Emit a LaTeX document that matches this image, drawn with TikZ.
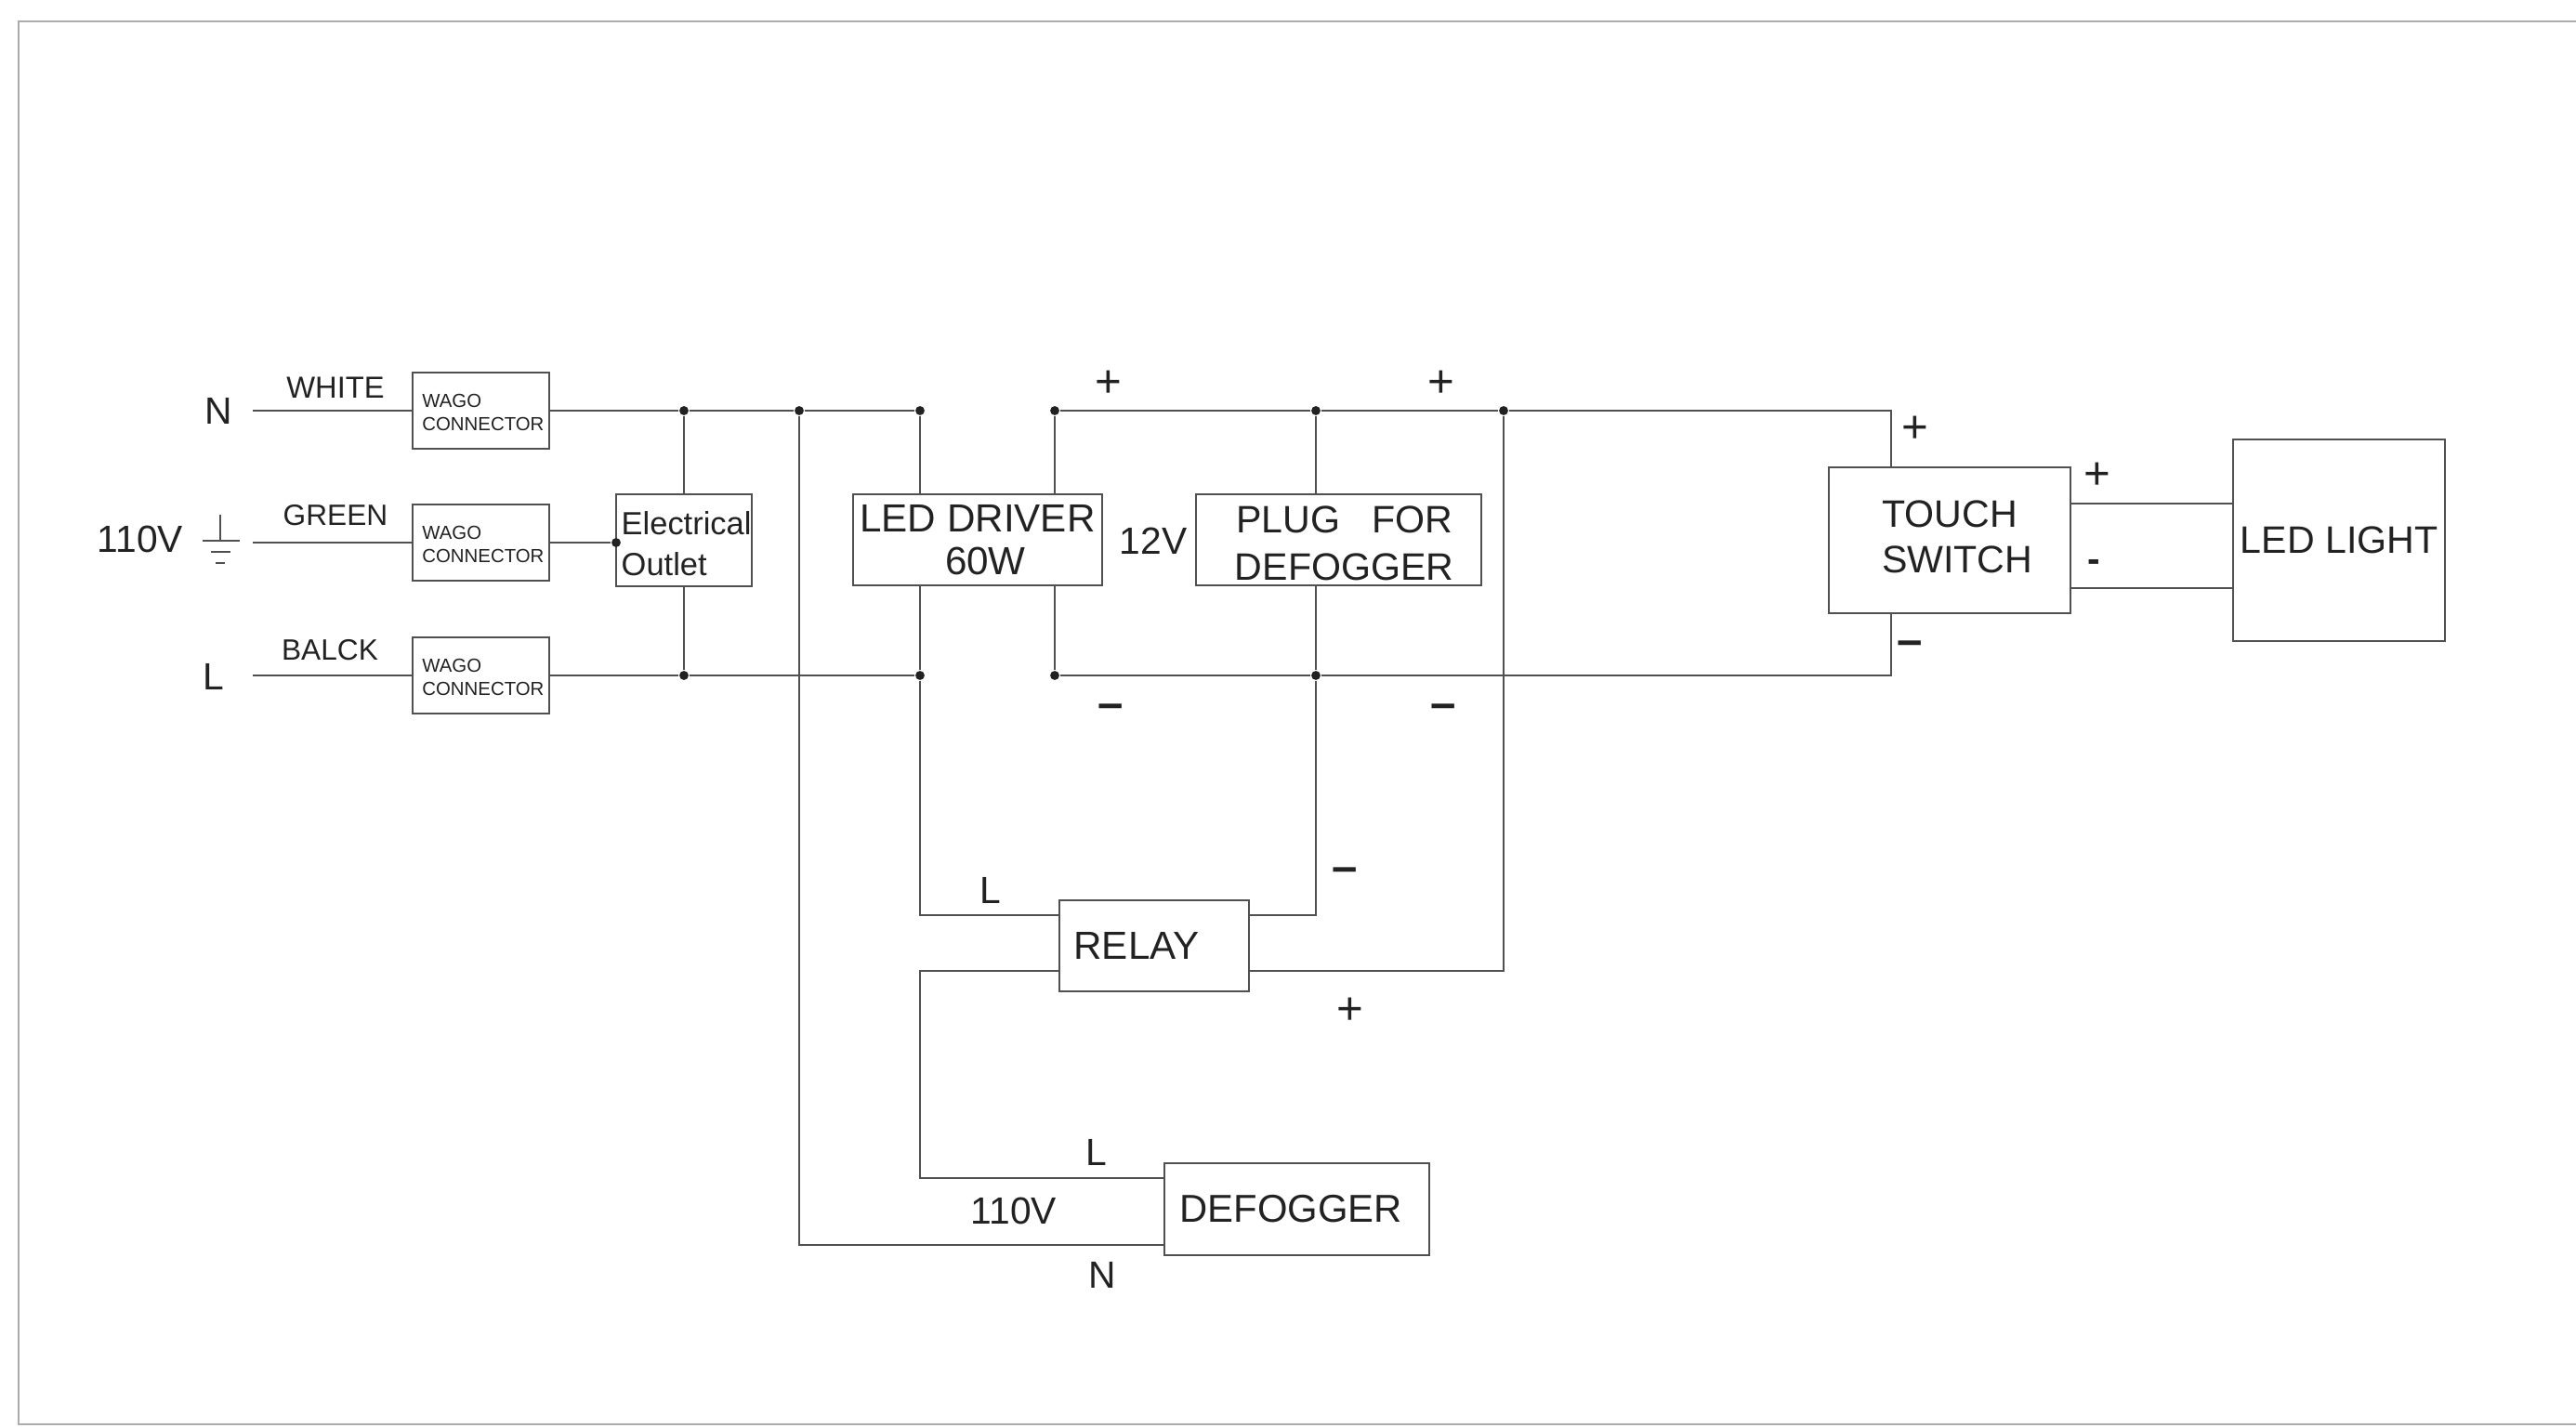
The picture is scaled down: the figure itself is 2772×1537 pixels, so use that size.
\documentclass[tikz,border=0pt]{standalone}
\usepackage{fontspec}
\setmainfont{Liberation Sans}
\usepackage{xcolor}
\usepackage{tikz}
\usetikzlibrary{positioning}
\definecolor{wirecol}{HTML}{505050}
\definecolor{inkcol}{HTML}{222222}

\begin{document}
\begin{tikzpicture}[
    x=0.01cm, y=-0.01cm,
    block/.style={rectangle, draw=wirecol, line width=0.75pt, text=inkcol, inner sep=0pt, align=center, font=\fontsize{11.7}{14}\selectfont},
    wago/.style={block, minimum width=147*0.01cm, minimum height=82*0.01cm},
    line/.style={draw=wirecol, line width=0.75pt},
    dot/.style={circle, fill=inkcol, inner sep=0pt, minimum size=2.8pt},
    lbl/.style={text=inkcol, inner sep=0pt, font=\fontsize{11.6}{13.4}\selectfont},
    wirelbl/.style={text=inkcol, inner sep=0pt, font=\fontsize{9}{11}\selectfont},
    sign/.style={text=inkcol, inner sep=0pt, font=\fontsize{14}{14}\selectfont},
    minus/.style={sign, font=\fontsize{14}{14}\selectfont\bfseries}
]

% Frame
\useasboundingbox (0,0) rectangle (2772,1537);
\draw[draw=gray!65, line width=0.8pt] (2772,23) -- (20,23) -- (20,1533) -- (2772,1533);

% Nodes
\node[wago] (wagoN) at (517.5,442) {};
\node[wago] (wagoG) at (517.5,584) {};
\node[wago] (wagoL) at (517.5,727) {};
\foreach \name in {wagoN, wagoG, wagoL} {
    \node[anchor=west, align=left, inner sep=0pt, text=inkcol, font=\fontsize{5.8}{6.9}\selectfont] (\name text) at ([xshift=11*0.01cm,yshift=-2*0.01cm]\name.west) {WAGO\\CONNECTOR};
}
\node[block, minimum width=146*0.01cm, minimum height=99*0.01cm] (outlet) at (736,581.5) {};
\node[anchor=west, align=left, inner sep=0pt, text=inkcol, font=\fontsize{9.8}{12.4}\selectfont] (outlettext) at (668,585) {Electrical\\Outlet};
\node[block, minimum width=268*0.01cm, minimum height=98*0.01cm, font=\fontsize{12}{13.2}\selectfont] (driver) at (1052,581) {LED DRIVER\\\hspace*{0.4em}60W};
\node[block, minimum width=307*0.01cm, minimum height=98*0.01cm, font=\fontsize{11.7}{14.4}\selectfont] (plug) at (1440.5,581) {\rule{0pt}{10.3pt}\hspace*{0.3em}PLUG\ \ \ FOR\\\hspace*{0.3em}DEFOGGER};
\node[block, minimum width=260*0.01cm, minimum height=157*0.01cm] (touch) at (2098,581.5) {TOUCH\\\hspace*{0.4em}SWITCH\rule[-2pt]{0pt}{1pt}};
\node[block, minimum width=228*0.01cm, minimum height=217*0.01cm] (light) at (2517,581.5) {LED LIGHT};
\node[block, minimum width=204*0.01cm, minimum height=98*0.01cm, font=\fontsize{12}{14}\selectfont] (relay) at (1242,1018) {\hspace*{-0.9em}RELAY};
\node[block, minimum width=285*0.01cm, minimum height=99*0.01cm, font=\fontsize{11.9}{14}\selectfont] (defogger) at (1395.5,1301.5) {\hspace*{-0.3em}DEFOGGER};

% Labels
\node[lbl] (lblN) at (235,442) {N};
\node[lbl] (lblG) at (151,580) {110V};
\node[lbl] (lblL) at (230,728) {L};
\node[wirelbl, font=\fontsize{9.3}{11}\selectfont] (white) at (361,417) {WHITE};
\node[wirelbl] (green) at (361,555) {GREEN};
\node[wirelbl] (balck) at (355,700) {BALCK};
\node[lbl] (volt) at (1241,582) {12V};
\node[lbl] (relayl) at (1066,958) {L};
\node[lbl] (defl) at (1180,1240) {L};
\node[lbl] (defv) at (1091,1303) {110V};
\node[lbl] (defn) at (1186,1372) {N};

% Signs
\node[sign] (plusa) at (1193,413) {+};
\node[sign] (plusb) at (1551,413) {+};
\node[sign] (plusc) at (2061,462) {+};
\node[sign] (plusd) at (2257,512) {+};
\node[sign] (pluse) at (1453,1088) {+};
\node[minus] (minusa) at (1195,766) {–};
\node[minus] (minusb) at (1553,766) {–};
\node[minus] (minusc) at (2055,698) {–};
\node[minus] (minusd) at (1447,942) {–};
\node[lbl, font=\fontsize{11.6}{13.4}\selectfont\bfseries] (minuse) at (2253,609) {-};

% Junctions
\node[dot] (dotNa) at (736,442) {};
\node[dot] (dotNb) at (860,442) {};
\node[dot] (dotNc) at (990,442) {};
\node[dot] (dotPa) at (1135,442) {};
\node[dot] (dotPb) at (1416,442) {};
\node[dot] (dotPc) at (1618,442) {};
\node[dot] (dotLa) at (736,727) {};
\node[dot] (dotLb) at (990,727) {};
\node[dot] (dotMa) at (1135,727) {};
\node[dot] (dotMb) at (1416,727) {};
\node[dot] (dotG) at (663,584) {};

% Free ends
\coordinate (startN) at (272,442);
\coordinate (startG) at (272,584);
\coordinate (startL) at (272,727);
\coordinate (turnP) at (2035,442);
\coordinate (turnM) at (2035,727);
\coordinate (relayLa) at (1140,985);
\coordinate (relayLb) at (1140,1045);
\coordinate (relayRa) at (1344,985);
\coordinate (relayRb) at (1344,1045);
\coordinate (defL) at (1253,1268);
\coordinate (defN) at (1253,1340);
\coordinate (turnR) at (990,1045);
\coordinate (lightP) at (2403,542);
\coordinate (lightM) at (2403,633);
\coordinate (touchP) at (2228,542);
\coordinate (touchM) at (2228,633);

% Ground
\coordinate (gndtop) at (237,554);
\coordinate (gndmid) at (237,582);
\draw[line] (gndtop) -- (gndmid);
\draw[line] ([xshift=-19*0.01cm]gndmid) -- ([xshift=21*0.01cm]gndmid);
\draw[line] ([xshift=-10*0.01cm,yshift=-12*0.01cm]gndmid) -- ([xshift=11*0.01cm,yshift=-12*0.01cm]gndmid);
\draw[line] ([xshift=-5*0.01cm,yshift=-24*0.01cm]gndmid) -- ([xshift=5*0.01cm,yshift=-24*0.01cm]gndmid);

% Paths
\path[line] (startN) -- (wagoN);
\path[line] (startG) -- (wagoG);
\path[line] (startL) -- (wagoL);
\path[line] (wagoG) -- (dotG);
\path[line] (wagoN) -- (dotNa) -- (dotNb) -- (dotNc);
\path[line] (wagoL) -- (dotLa) -- (dotLb);
\path[line] (dotPa) -- (dotPb) -- (dotPc) -- (turnP) -- (touch.north -| turnP);
\path[line] (dotMa) -- (dotMb) -- (turnM) -- (touch.south -| turnM);
\path[line] (dotNa) -- (outlet);
\path[line] (outlet) -- (dotLa);
\path[line] (dotNc) -- (driver.north -| dotNc);
\path[line] (driver.south -| dotLb) -- (dotLb) |- (relayLa);
\path[line] (dotPa) -- (driver.north -| dotPa);
\path[line] (driver.south -| dotMa) -- (dotMa);
\path[line] (dotPb) -- (plug.north -| dotPb);
\path[line] (plug.south -| dotMb) -- (dotMb) |- (relayRa);
\path[line] (dotPc) |- (relayRb);
\path[line] (relayLb) -- (turnR) |- (defL);
\path[line] (dotNb) |- (defN);
\path[line] (touchP) -- (lightP);
\path[line] (touchM) -- (lightM);

\end{tikzpicture}
\end{document}
